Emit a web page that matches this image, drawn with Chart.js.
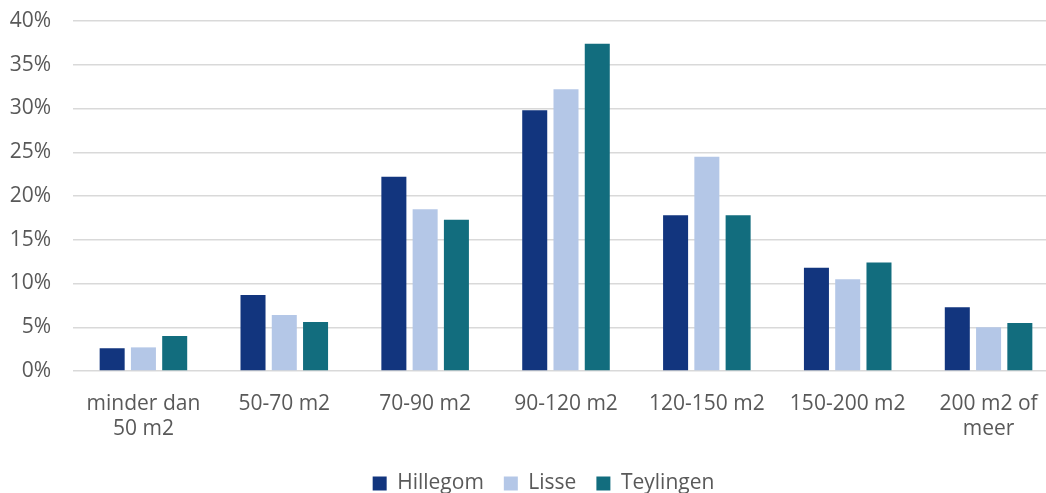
<!DOCTYPE html>
<html>
<head>
<meta charset="utf-8">
<script src="https://cdn.jsdelivr.net/npm/chart.js@4.4.1/dist/chart.umd.min.js"></script>
<style>
  html, body { margin: 0; padding: 0; background: #ffffff; overflow: hidden; }
  #wrap { width: 1046px; height: 493px; position: relative; overflow: hidden; }
  /* the plot runs slightly past the right edge of the visible frame */
  #inner { width: 1059px; height: 493px; position: absolute; left: 0; top: 0; }
</style>
</head>
<body>
<div id="wrap"><div id="inner"><canvas id="chart"></canvas></div></div>
<script>
// Woningoppervlakte per gemeente (aandeel van de woningvoorraad, %)
const categories = [
  ['minder dan', '50 m2'],
  '50-70 m2',
  '70-90 m2',
  '90-120 m2',
  '120-150 m2',
  '150-200 m2',
  ['200 m2 of', 'meer']
];
const hillegom  = [2.6, 8.7, 22.2, 29.8, 17.8, 11.8, 7.3];
const lisse     = [2.7, 6.4, 18.5, 32.2, 24.5, 10.5, 5.0];
const teylingen = [4.0, 5.6, 17.3, 37.4, 17.8, 12.4, 5.5];
const yTicks = [0, 5, 10, 15, 20, 25, 30, 35, 40];

const textColor = '#595959';
const fontFamily = '"Open Sans", "Noto Sans", sans-serif';

// nudge the legend row a little to the right of the canvas centre
const legendShift = {
  id: 'legendShift',
  afterLayout(chart) {
    const lg = chart.legend;
    if (lg) { lg.left += 14; lg.right += 14; }
  }
};

new Chart(document.getElementById('chart'), {
  type: 'bar',
  data: {
    labels: categories,
    datasets: [
      { label: 'Hillegom',  data: hillegom,  backgroundColor: '#12357e' },
      { label: 'Lisse',     data: lisse,     backgroundColor: '#b4c7e7' },
      { label: 'Teylingen', data: teylingen, backgroundColor: '#126d7e' }
    ]
  },
  plugins: [legendShift],
  options: {
    responsive: true,
    maintainAspectRatio: false,
    animation: false,
    datasets: {
      bar: { categoryPercentage: 0.666, barPercentage: 0.8 }
    },
    layout: { padding: { top: 21, right: 0, left: 0, bottom: -11 } },
    plugins: {
      tooltip: { enabled: false },
      legend: {
        position: 'bottom',
        labels: {
          color: textColor,
          font: { family: fontFamily, size: 21 },
          boxWidth: 14,
          boxHeight: 14,
          padding: 20
        }
      }
    },
    scales: {
      x: {
        grid: { display: false },
        border: { display: false },
        afterFit: (scale) => {
          scale.height = 82;
          scale.paddingLeft = 0;
          scale.paddingRight = 0;
        },
        ticks: {
          color: textColor,
          font: { family: fontFamily, size: 21 },
          padding: 12,
          maxRotation: 0,
          autoSkip: false
        }
      },
      y: {
        min: yTicks[0],
        max: yTicks[yTicks.length - 1],
        afterBuildTicks: (scale) => { scale.ticks = yTicks.map(v => ({ value: v })); },
        afterFit: (scale) => {
          scale.width = 73;
          scale.paddingTop = 0;
          scale.paddingBottom = 0;
        },
        grid: { color: '#d9d9d9', lineWidth: 1.5, drawTicks: false },
        border: { display: false },
        ticks: {
          color: textColor,
          font: { family: fontFamily, size: 21 },
          padding: 22,
          callback: (v) => v + '%'
        }
      }
    }
  }
});
</script>
</body>
</html>
